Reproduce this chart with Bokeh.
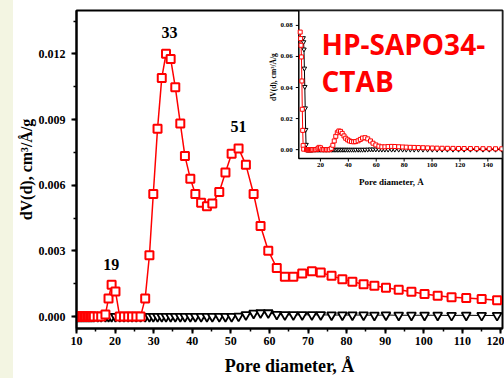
import math
from bokeh.plotting import figure
from bokeh.models import Range1d, SingleIntervalTicker, NumeralTickFormatter, Label
from bokeh.core.properties import value
from bokeh.embed import file_html
from bokeh.resources import INLINE

# ---------------- data ----------------
pore = [10.0, 10.4, 10.8, 11.2, 11.6, 12.0, 12.4, 12.8, 13.2, 13.6, 14.0, 14.5, 15.5, 16.4,
        17.5, 18.3, 19.1, 20.1, 21.2, 22.3, 23.4, 24.4, 25.5, 26.6, 27.8, 28.9, 29.9,
        31.0, 32.1, 33.2, 34.4, 35.6, 36.9, 38.1, 39.5, 40.8, 42.3, 43.8, 45.2, 47.0,
        48.6, 50.2, 52.0, 53.9, 55.9, 57.7, 59.7, 61.9, 64.0, 66.2, 68.5, 71.0, 73.3,
        76.1, 78.9, 81.5, 84.4, 87.2, 90.2, 93.5, 96.8, 100.2, 103.6, 107.2, 111.0,
        115.0, 119.0]
red_dv = [0, 0, 0, 0, 0, 0, 0, 0, 0, 0, 0, 0, 0, 0,
          0.0001, 0.00083, 0.00145, 0.00115, 0, 0, 0, 0, 0, 0, 0.00083, 0.0028, 0.0056,
          0.00858, 0.0109, 0.0120, 0.01177, 0.01048, 0.00882, 0.00733, 0.0063, 0.0056,
          0.0052, 0.00504, 0.00516, 0.00569, 0.00658, 0.00744, 0.00768, 0.00693, 0.0056,
          0.00414, 0.00301, 0.00222, 0.00182, 0.00182, 0.00197, 0.00207, 0.00201,
          0.00186, 0.00171, 0.00159, 0.00148, 0.00141, 0.00132, 0.00123, 0.00113,
          0.00103, 0.00095, 0.00088, 0.00085, 0.0008, 0.00074]
black_dv = [0, 0, 0, 0, 0, 0, 0, 0, 0, 0, 0, 0, 0, 0,
            0, 0, 0, 0, 0, 0, 0, 0, 0, 0, 0, 0, 0,
            0, 0, 0, 0, 0, 0, 0, 0, 0, 0, 0, 0, 0,
            0, 0, 0.00002, 0.00008, 0.00015, 0.00017, 0.00017, 0.0001, 0.00008, 0.00008,
            0.00008, 0.00008, 0.00008, 0.00007, 0.00007, 0.00007, 0.00007, 0.00006,
            0.00007, 0.00006, 0.00006, 0.00006, 0.00006, 0.00005, 0.00006, 0.00005, 0.00005]

# inset-only parts of the curves
spike_red_x = [5.5, 5.8, 6.1, 6.4, 6.7, 7.0, 7.3, 7.6, 8.0]
spike_red_y = [0.0757, 0.0715, 0.0672, 0.0597, 0.0442, 0.026, 0.0124, 0.0026, 0.0003]
spike_black_x = [7.6, 7.9, 8.2, 8.5, 8.8, 9.1, 9.4, 9.7]
spike_black_y = [0.0719, 0.0693, 0.0646, 0.0523, 0.0405, 0.0267, 0.0128, 0.0032]
tail_x = [123.0, 127.5, 132.0, 136.5, 141.0, 145.5, 150.0]
tail_red = [0.0007, 0.00067, 0.00064, 0.0006, 0.00058, 0.00055, 0.00052]
tail_black = [0.00005, 0.00005, 0.00005, 0.00005, 0.00004, 0.00004, 0.00004]

peak_text = ["19", "33", "51"]
peak_label_x = [19.0, 34.1, 52.0]
peak_label_y = [0.00236, 0.01298, 0.00867]

inset_xticks = [20, 40, 60, 80, 100, 120, 140]
inset_yticks = [0.0, 0.02, 0.04, 0.06, 0.08]
inset_ytick_labels = ["0.00", "0.02", "0.04", "0.06", "0.08"]

# ---------------- layout constants ----------------
W, H = 504, 378
FL, FR, FT, FB = 76, 502, 10, 330
X0, X1 = 10.0, 120.4
Y0, Y1 = -0.000545, 0.01398

SERIF = "Liberation Serif"
RED = "#ff0000"


def px_to_x(px):
    return X0 + (px - FL) / (FR - FL) * (X1 - X0)


def py_to_y(py):
    return Y1 - (py - FT) / (FB - FT) * (Y1 - Y0)


p = figure(width=W, height=H, x_range=Range1d(X0, X1), y_range=Range1d(Y0, Y1),
           output_backend="svg", toolbar_location=None,
           min_border_left=FL, min_border_right=W - FR,
           min_border_top=FT, min_border_bottom=H - FB)
p.grid.visible = False
p.border_fill_color = None
p.background_fill_color = "white"
p.styles = {"background": "linear-gradient(90deg, #f3f5e2 0px, #f3f5e2 13px, #ffffff 13px, #ffffff 100%)"}
p.outline_line_color = "black"
p.outline_line_width = 2

p.xaxis.ticker = SingleIntervalTicker(interval=10, num_minor_ticks=2)
p.yaxis.ticker = SingleIntervalTicker(interval=0.003, num_minor_ticks=2)
p.yaxis.formatter = NumeralTickFormatter(format="0.000")
for ax in (p.xaxis[0], p.yaxis[0]):
    ax.axis_line_width = 2
    ax.major_tick_line_width = 2
    ax.minor_tick_line_width = 1.5
    ax.major_tick_in = 0
    ax.major_tick_out = 5
    ax.minor_tick_in = 0
    ax.minor_tick_out = 3
    ax.major_label_text_font = SERIF
    ax.major_label_text_font_style = "bold"
    ax.major_label_text_font_size = "12px"
    ax.major_label_text_color = "black"
    ax.axis_label_text_font = SERIF
    ax.axis_label_text_font_style = "bold"
    ax.axis_label_text_color = "black"
p.xaxis.axis_label = "Pore diameter, Å"
p.xaxis.axis_label_text_font_size = "18px"
p.xaxis.major_label_standoff = 3
p.xaxis.axis_label_standoff = 8
p.yaxis.axis_label = "dV(d), cm³/Å/g"
p.yaxis.axis_label_text_font_size = "16px"
p.yaxis.major_label_standoff = 6
p.yaxis.axis_label_standoff = 1

# main curves
p.line(pore, black_dv, line_color="black", line_width=1)
p.scatter(pore, black_dv, marker="inverted_triangle", size=9, line_color="black",
          line_width=1.8, fill_color="white")
p.line(pore, red_dv, line_color=RED, line_width=1.5)
p.scatter(pore, red_dv, marker="square", size=8, line_color=RED, line_width=2,
          fill_color="white")

p.text(x=peak_label_x, y=peak_label_y, text=peak_text, text_align="center",
       text_baseline="middle", text_font=value(SERIF), text_font_style="bold",
       text_font_size="16px", text_color="black")

# ---------------- inset ----------------
IX0, IX1 = 4.5, 150.5
IY0, IY1 = -0.00576, 0.0896
ins = p.subplot(x_source=Range1d(IX0, IX1), y_source=Range1d(IY0, IY1),
                x_target=Range1d(px_to_x(298.3), X1), y_target=Range1d(py_to_y(159), Y1))

ins.quad(left=[IX0], right=[IX1], bottom=[IY0], top=[IY1], fill_color="white",
         line_color="black", line_width=1.5)

ins_black_x = spike_black_x + pore + tail_x
ins_black_y = spike_black_y + black_dv + tail_black
ins_red_x = spike_red_x + pore + tail_x
ins_red_y = spike_red_y + red_dv + tail_red
ins.line(ins_black_x, ins_black_y, line_color="black", line_width=1)
ins.scatter(ins_black_x, ins_black_y, marker="inverted_triangle", size=4.5,
            line_color="black", line_width=1, fill_color="white")
ins.line(ins_red_x, ins_red_y, line_color=RED, line_width=1)
ins.scatter(ins_red_x, ins_red_y, marker="square", size=4, line_color=RED,
            line_width=1, fill_color="white")

ins.ray(x=inset_xticks, y=[IY0] * len(inset_xticks), length=3, length_units="screen",
        angle=-math.pi / 2, line_color="black", line_width=1)
ins.ray(x=[IX0] * len(inset_yticks), y=inset_yticks, length=3, length_units="screen",
        angle=math.pi, line_color="black", line_width=1)
ins.text(x=inset_xticks, y=[IY0] * len(inset_xticks), text=[str(t) for t in inset_xticks],
         y_offset=4, text_align="center", text_baseline="top", text_font=value(SERIF),
         text_font_style="bold", text_font_size="7px", text_color="black")
ins.text(x=[IX0] * len(inset_yticks), y=inset_yticks, text=inset_ytick_labels,
         x_offset=-6, text_align="right", text_baseline="middle", text_font=value(SERIF),
         text_font_style="bold", text_font_size="7px", text_color="black")
ins.text(x=[70.8], y=[IY0], text=["Pore diameter, Å"], y_offset=23,
         text_align="center", text_baseline="middle", text_font=value(SERIF),
         text_font_style="bold", text_font_size="9px", text_color="black")
ins.text(x=[IX0], y=[0.0467], text=["dV(d), cm³/Å/g"], x_offset=-25, angle=math.pi / 2,
         text_align="center", text_baseline="middle", text_font=value(SERIF),
         text_font_style="bold", text_font_size="7.5px", text_color="black")

# big sample name
for txt, py in (("HP-SAPO34-", 44.0), ("CTAB", 81.0)):
    p.add_layout(Label(x=px_to_x(321), y=py_to_y(py), text=txt, text_font="Open Sans",
                       text_font_style="bold", text_font_size="28px", text_color=RED,
                       text_align="left", text_baseline="alphabetic"))

open("out.html", "w").write(file_html(p, INLINE))
